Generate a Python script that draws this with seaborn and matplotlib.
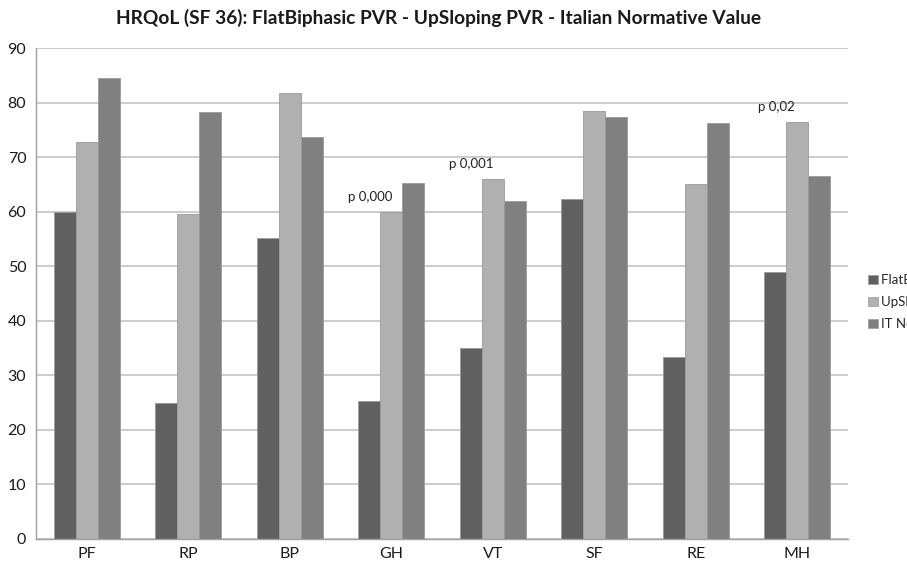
"""
HRQoL (SF 36) grouped bar chart: FlatBiphasic vs UpSloping PVR vs Italian normative values.
"""

import pandas as pd
import numpy as np
import matplotlib
matplotlib.use("Agg")
import matplotlib.pyplot as plt
import seaborn as sns
from matplotlib.patches import Patch

# Data
domains = ["PF", "RP", "BP", "GH", "VT", "SF", "RE", "MH"]
flat_biphasic = [60.0, 25.0, 55.2, 25.3, 35.0, 62.4, 33.3, 49.0]
up_sloping = [72.8, 59.5, 81.8, 60.0, 66.0, 78.5, 65.0, 76.5]
it_normative = [84.5, 78.3, 73.7, 65.2, 62.0, 77.4, 76.2, 66.6]
series_names = ["FlatBiphasic PVR", "UpSloping PVR", "IT Normative Value"]

# p-value annotations (domain, text)
p_labels = [("GH", "p 0,000"), ("VT", "p 0,001"), ("MH", "p 0,02")]

colors = ["#606060", "#b0b0b0", "#808080"]

df = pd.DataFrame({
    "domain": domains * 3,
    "value": flat_biphasic + up_sloping + it_normative,
    "series": [series_names[0]] * 8 + [series_names[1]] * 8 + [series_names[2]] * 8,
})

sns.set_style("white")
plt.rcParams["font.family"] = ["Lato", "DejaVu Sans"]

fig = plt.figure(figsize=(9.07, 5.62), dpi=100)
ax = fig.add_axes([36 / 907, 23 / 562, 812 / 907, 491 / 562])

sns.barplot(data=df, x="domain", y="value", hue="series", order=domains,
            hue_order=series_names, palette=colors, width=0.65, gap=0,
            edgecolor="#9a9a9a", linewidth=0.6, legend=False, ax=ax)

ax.set_ylim(0, 90)
ax.set_xlim(-0.5, len(domains) - 0.5)
ax.set_yticks(np.arange(0, 91, 10))
ax.yaxis.grid(True, color="#c4c4c4", linewidth=1.2)
ax.set_axisbelow(True)
ax.set_xlabel("")
ax.set_ylabel("")

for side in ["top", "right"]:
    ax.spines[side].set_visible(False)
for side in ["left", "bottom"]:
    ax.spines[side].set_color("#a0a0a0")
    ax.spines[side].set_linewidth(1.0)

ax.tick_params(axis="y", direction="out", length=5, color="#a0a0a0",
               labelsize=11.5, labelcolor="#1a1a1a", pad=2)
ax.tick_params(axis="x", which="major", length=0, labelsize=11.5,
               labelcolor="#1a1a1a", pad=6)
ax.set_xticks(np.arange(-0.5, len(domains), 1.0), minor=True)
ax.tick_params(axis="x", which="minor", direction="out", length=5, color="#a0a0a0")

up_lookup = dict(zip(domains, up_sloping))
for dom, txt in p_labels:
    i = domains.index(dom)
    ax.text(i - 0.21, up_lookup[dom] + 1.6, txt, ha="center", va="bottom",
            fontsize=9.5, color="#222222")

fig.suptitle("HRQoL (SF 36): FlatBiphasic PVR - UpSloping PVR - Italian Normative Value",
             x=0.484, y=0.985, fontsize=13.8, fontweight="bold", color="#1a1a1a")

# legend sits at the right edge and is cut off there, as in the reference
handles = [Patch(facecolor=c, edgecolor="#9a9a9a", linewidth=0.5) for c in colors]
fig.legend(handles, series_names, loc="center left",
           bbox_to_anchor=(863 / 907, (562 - 302) / 562), frameon=False, fontsize=9.5,
           handlelength=0.7, handleheight=0.7, handletextpad=0.3,
           labelspacing=0.75, borderaxespad=0)

fig.savefig("out.png", dpi=100)
